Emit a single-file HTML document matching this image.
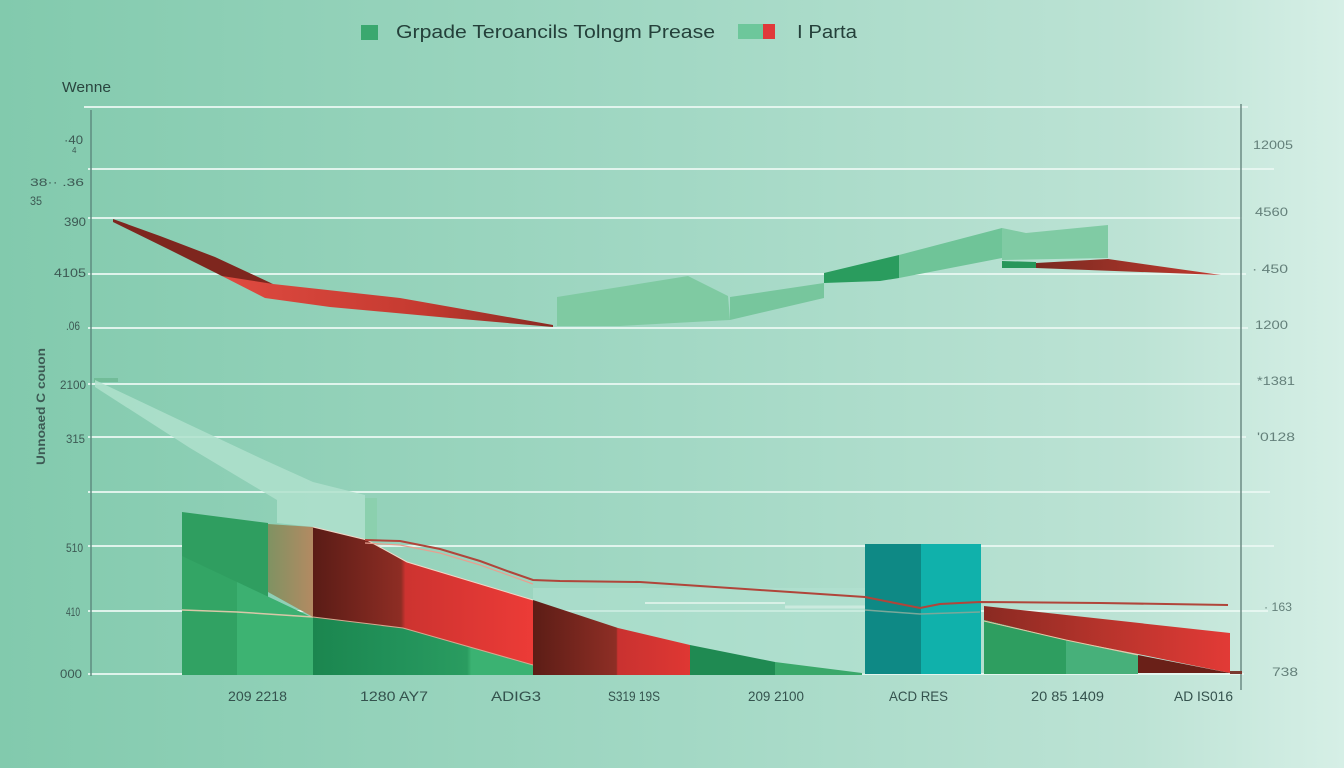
<!DOCTYPE html>
<html><head><meta charset="utf-8"><style>
html,body{margin:0;padding:0;width:1344px;height:768px;overflow:hidden;background:#a0d7c2}
svg{display:block}
text{font-family:"Liberation Sans",sans-serif}
</style></head><body>
<svg width="1344" height="768" viewBox="0 0 1344 768" xmlns="http://www.w3.org/2000/svg">
<defs>
<linearGradient id="bg" x1="0" y1="0" x2="1" y2="0">
<stop offset="0" stop-color="#82caad"/><stop offset="0.5" stop-color="#a2d8c4"/><stop offset="0.85" stop-color="#bde3d5"/><stop offset="1" stop-color="#d6efe6"/>
</linearGradient>
<linearGradient id="topred" gradientUnits="userSpaceOnUse" x1="225" y1="0" x2="553" y2="0">
<stop offset="0" stop-color="#de4a40"/><stop offset="0.6" stop-color="#c53a30"/><stop offset="1" stop-color="#8a2a22"/>
</linearGradient>
<linearGradient id="tri" gradientUnits="userSpaceOnUse" x1="1036" y1="0" x2="1221" y2="0">
<stop offset="0" stop-color="#7a2a20"/><stop offset="1" stop-color="#c0392f"/>
</linearGradient>
<linearGradient id="brown" gradientUnits="userSpaceOnUse" x1="268" y1="0" x2="313" y2="0">
<stop offset="0" stop-color="#7f9262"/><stop offset="1" stop-color="#b38a62"/>
</linearGradient>
<linearGradient id="red1" gradientUnits="userSpaceOnUse" x1="313" y1="0" x2="533" y2="0">
<stop offset="0" stop-color="#5a1c16"/><stop offset="0.4" stop-color="#8e2d24"/><stop offset="0.42" stop-color="#cd3330"/><stop offset="1" stop-color="#ec3b37"/>
</linearGradient>
<linearGradient id="grn1" gradientUnits="userSpaceOnUse" x1="313" y1="0" x2="533" y2="0">
<stop offset="0" stop-color="#1b864f"/><stop offset="0.4" stop-color="#22925a"/><stop offset="0.7" stop-color="#2a9c60"/><stop offset="0.72" stop-color="#3bb272"/><stop offset="1" stop-color="#3bb272"/>
</linearGradient>
<linearGradient id="red2" gradientUnits="userSpaceOnUse" x1="533" y1="0" x2="690" y2="0">
<stop offset="0" stop-color="#5c1d16"/><stop offset="0.53" stop-color="#8e2e25"/><stop offset="0.54" stop-color="#c93230"/><stop offset="1" stop-color="#df3733"/>
</linearGradient>
<linearGradient id="red3" gradientUnits="userSpaceOnUse" x1="984" y1="0" x2="1230" y2="0">
<stop offset="0" stop-color="#8a2a22"/><stop offset="0.5" stop-color="#b8342c"/><stop offset="1" stop-color="#e23a36"/>
</linearGradient>
</defs>
<rect width="1344" height="768" fill="url(#bg)"/>

<!-- gridlines -->
<g stroke="#e9f8f2" stroke-width="2" opacity="0.9">
<line x1="84" y1="107" x2="1248" y2="107"/>
<line x1="88" y1="169" x2="1274" y2="169"/>
<line x1="88" y1="218" x2="1242" y2="218"/>
<line x1="88" y1="274" x2="1246" y2="274"/>
<line x1="88" y1="328" x2="1248" y2="328"/>
<line x1="88" y1="384" x2="1240" y2="384"/>
<line x1="88" y1="437" x2="1246" y2="437"/>
<line x1="88" y1="492" x2="1270" y2="492"/>
<line x1="88" y1="546" x2="1274" y2="546"/>
<line x1="88" y1="611" x2="1268" y2="611"/>
<line x1="88" y1="674" x2="1244" y2="674"/>
</g>

<!-- axes -->
<line x1="91" y1="110" x2="91" y2="676" stroke="#5f8c80" stroke-width="1.5"/>
<line x1="1241" y1="104" x2="1241" y2="690" stroke="#6c8a84" stroke-width="1.5"/>

<!-- top red band -->
<polygon fill="url(#topred)" points="218,274 273,284 400,298 553,325 553,327 450,318 330,307 265,298"/>
<polygon fill="#7e261e" points="113,219 160,236 215,257 273,284 222,276 170,250 113,222"/>

<!-- top green steps -->
<polygon fill="#7fcaa2" points="557,297 688,276 728,296 730,320 620,326 557,326"/>
<polygon fill="#77c69d" points="730,297 824,283 824,298 730,320"/>
<polygon fill="#2a9c5e" points="824,273 899,255 899,278 880,281 824,283"/>
<polygon fill="#6fc498" points="899,255 1002,228 1002,258 899,278"/>
<polygon fill="#80cba4" points="1002,228 1026,233 1108,225 1108,258 1002,260"/>
<polygon fill="#27975a" points="1002,261 1036,262 1036,268 1002,268"/>
<polygon fill="url(#tri)" points="1036,263 1108,259 1221,275 1036,268"/>

<!-- pale band lower left -->
<rect x="94" y="378" width="24" height="4" fill="#6ab58f" opacity="0.7"/>
<polygon fill="#afe0cd" opacity="0.85" points="95,380 190,425 260,458 313,482 365,495 365,540 313,527 277,523 277,500 190,448 95,387"/>
<rect x="365" y="498" width="12" height="42" fill="#8bd0ae"/>

<!-- pale panel -->
<rect x="533" y="588" width="332" height="86" fill="#b3e2d1" opacity="0.55"/>

<!-- green block left -->
<polygon fill="#2f9e60" points="182,512 268,523 268,675 182,675"/>
<polygon fill="#33a565" points="182,556 313,618 313,675 182,675"/>
<polygon fill="#3cb071" points="237,582 313,618 313,675 237,675"/>
<polygon fill="#31a263" points="182,610 237,612 237,675 182,675"/>
<polygon fill="#3db372" points="237,612 313,617 313,675 237,675"/>
<polyline points="182,610 237,612 313,617" fill="none" stroke="#d9c8a8" stroke-width="1.5"/>

<!-- brown -->
<polygon fill="url(#brown)" points="268,524 313,527 313,617 268,592"/>

<!-- red band 1 -->
<polygon fill="url(#red1)" points="313,527 367,540 407,562 533,600 533,665 403,628 313,617"/>
<polyline points="313,527 367,540 407,562 533,600" fill="none" stroke="#f0d8c8" stroke-width="1"/>
<!-- green under -->
<polygon fill="url(#grn1)" points="313,617 403,628 533,665 533,675 313,675"/>
<polyline points="313,617 403,628 533,665" fill="none" stroke="#d8a890" stroke-width="1"/>

<!-- red band 2 -->
<polygon fill="url(#red2)" points="533,600 618,628 690,645 690,675 533,675"/>
<polygon fill="#1f8a52" points="690,645 775,662 775,675 690,675"/>
<polygon fill="#3aa86a" points="775,662 862,673 862,675 775,675"/>

<!-- teal bar -->
<rect x="865" y="544" width="56" height="130" fill="#0e8985"/>
<rect x="921" y="544" width="60" height="130" fill="#10b1ab"/>

<!-- right group -->
<polygon fill="url(#red3)" points="984,606 1230,633 1230,673 1138,654 1066,640 984,620"/>
<polygon fill="#2e9e60" points="984,620 1066,640 1066,674 984,674"/>
<polygon fill="#47b07a" points="1066,640 1138,655 1138,674 1066,674"/>
<polygon fill="#6a2018" points="1138,655 1230,673 1138,673"/>
<polyline points="984,621 1066,640 1138,655" fill="none" stroke="#e8c8a8" stroke-width="1"/>
<rect x="1230" y="671" width="12" height="3" fill="#7a3a30"/>

<!-- lines -->
<line x1="645" y1="603" x2="785" y2="603" stroke="#d8f0e6" stroke-width="2"/>
<line x1="785" y1="607" x2="865" y2="607" stroke="#d8f0e6" stroke-width="3" opacity="0.7"/>
<polyline points="365,543 400,545 440,553 480,565 533,584" fill="none" stroke="#e7a090" stroke-width="1.2"/>
<polyline points="865,610 920,614 980,612" fill="none" stroke="#7aa89a" stroke-width="1.5"/>
<polyline points="365,540 400,541 440,549 480,561 510,572 533,580 560,581 640,582 700,586 760,590 865,597 920,608 940,604 980,602 1100,603 1228,605" fill="none" stroke="#b0453a" stroke-width="2"/>

<!-- legend / title -->
<rect x="361" y="25" width="17" height="15" fill="#3aa86f"/>
<text x="396" y="38" font-size="18" fill="#24403a" textLength="319" lengthAdjust="spacingAndGlyphs">Grpade Teroancils Tolngm Prease</text>
<rect x="738" y="24" width="25" height="15" fill="#6dc79b"/>
<rect x="763" y="24" width="12" height="15" fill="#e0393a"/>
<text x="797" y="38" font-size="18" fill="#24403a" textLength="60" lengthAdjust="spacingAndGlyphs">I Parta</text>

<text x="62" y="92" font-size="15" fill="#2a453f" textLength="49" lengthAdjust="spacingAndGlyphs">Wenne</text>

<!-- left ticks -->
<g font-size="12" fill="#3d5a54">
<text x="64" y="144" textLength="19" lengthAdjust="spacingAndGlyphs">·40</text>
<text x="72" y="153" font-size="8">4</text>
<text x="30" y="186" font-size="11" textLength="54" lengthAdjust="spacingAndGlyphs">38·· .36</text>
<text x="30" y="205" textLength="12" lengthAdjust="spacingAndGlyphs">35</text>
<text x="64" y="226" textLength="22" lengthAdjust="spacingAndGlyphs">390</text>
<text x="54" y="277" textLength="32" lengthAdjust="spacingAndGlyphs">4105</text>
<text x="66" y="330" textLength="14" lengthAdjust="spacingAndGlyphs">.06</text>
<text x="60" y="389" textLength="26" lengthAdjust="spacingAndGlyphs">2100</text>
<text x="66" y="443" textLength="19" lengthAdjust="spacingAndGlyphs">315</text>
<text x="66" y="552" textLength="17" lengthAdjust="spacingAndGlyphs">510</text>
<text x="66" y="616" textLength="14" lengthAdjust="spacingAndGlyphs">410</text>
<text x="60" y="678" textLength="22" lengthAdjust="spacingAndGlyphs">000</text>
</g>
<text transform="translate(45,465) rotate(-90)" font-size="12" font-weight="bold" fill="#3d5a54" textLength="117" lengthAdjust="spacingAndGlyphs">Unnoaed C couon</text>

<!-- right ticks -->
<g font-size="12" fill="#64807a">
<text x="1253" y="149" textLength="40" lengthAdjust="spacingAndGlyphs">12005</text>
<text x="1255" y="216" textLength="33" lengthAdjust="spacingAndGlyphs">4560</text>
<text x="1252" y="273" textLength="36" lengthAdjust="spacingAndGlyphs">· 450</text>
<text x="1255" y="329" textLength="33" lengthAdjust="spacingAndGlyphs">1200</text>
<text x="1257" y="385" textLength="38" lengthAdjust="spacingAndGlyphs">*1381</text>
<text x="1257" y="441" textLength="38" lengthAdjust="spacingAndGlyphs">'0128</text>
<text x="1264" y="611" textLength="28" lengthAdjust="spacingAndGlyphs">· 163</text>
<text x="1272" y="676" textLength="26" lengthAdjust="spacingAndGlyphs">738</text>
</g>

<!-- x labels -->
<g font-size="14" fill="#34524d">
<text x="228" y="701" textLength="59" lengthAdjust="spacingAndGlyphs">209 2218</text>
<text x="360" y="701" textLength="68" lengthAdjust="spacingAndGlyphs">1280 AY7</text>
<text x="491" y="701" textLength="50" lengthAdjust="spacingAndGlyphs">ADIG3</text>
<text x="608" y="701" textLength="52" lengthAdjust="spacingAndGlyphs">S319 19S</text>
<text x="748" y="701" textLength="56" lengthAdjust="spacingAndGlyphs">209 2100</text>
<text x="889" y="701" textLength="59" lengthAdjust="spacingAndGlyphs">ACD RES</text>
<text x="1031" y="701" textLength="73" lengthAdjust="spacingAndGlyphs">20 85 1409</text>
<text x="1174" y="701" textLength="59" lengthAdjust="spacingAndGlyphs">AD IS016</text>
</g>
</svg>
</body></html>
